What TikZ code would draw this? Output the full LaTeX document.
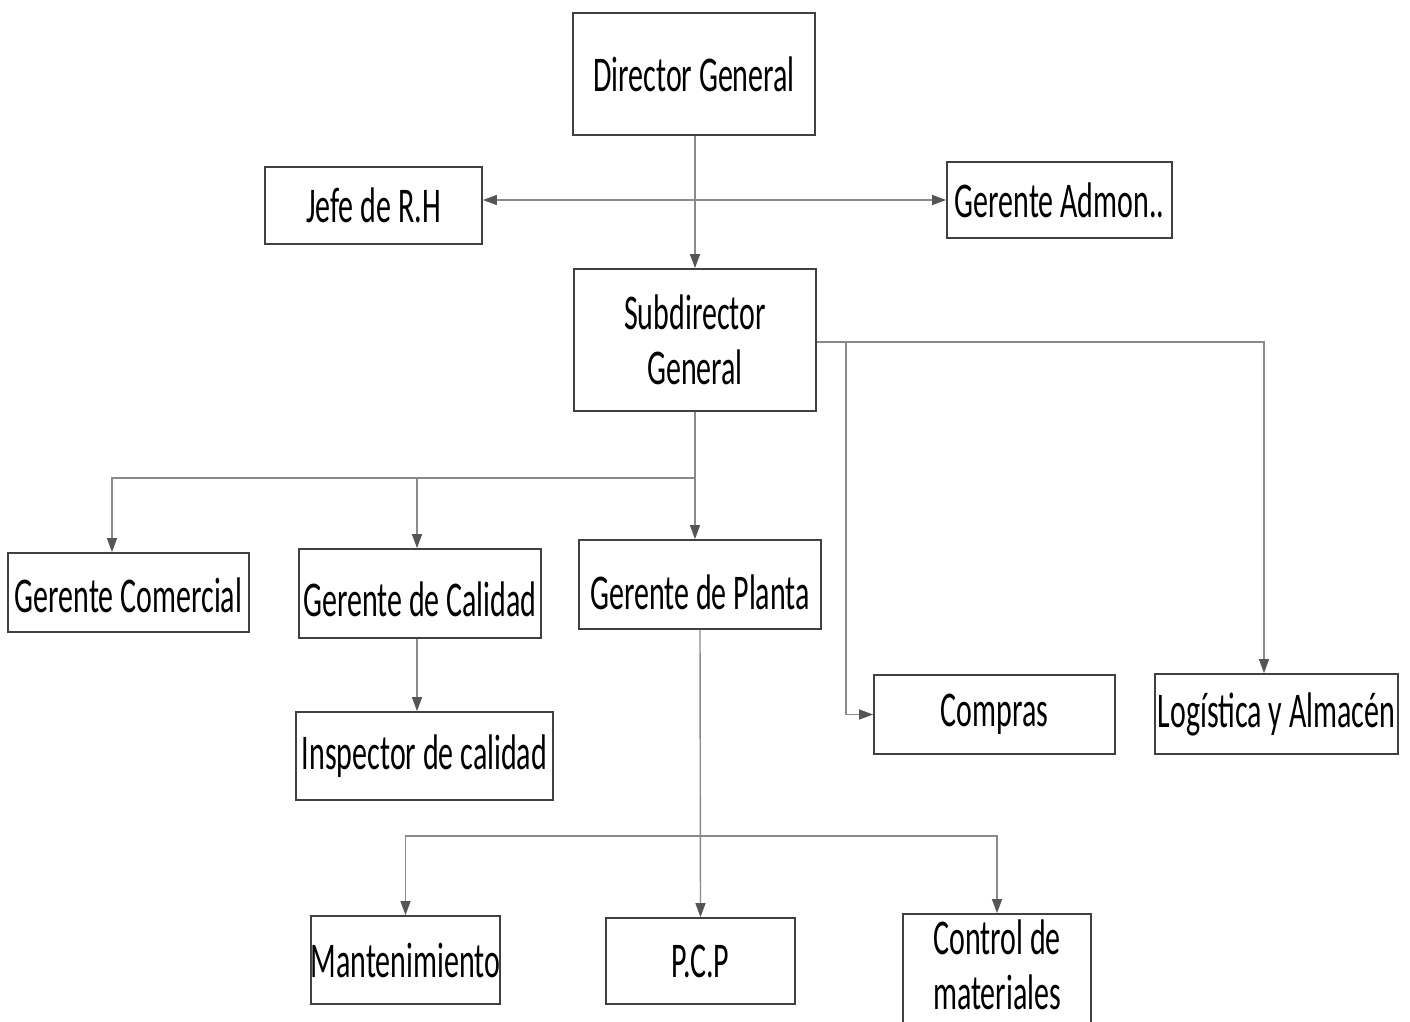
\documentclass[tikz,border=0pt]{standalone}
\usepackage{fontspec}
\setmainfont{Carlito}[FakeStretch=0.6]
\usepackage{tikz}
\usetikzlibrary{arrows.meta,positioning,calc}
\definecolor{boxgray}{HTML}{404040}
\definecolor{linkgray}{HTML}{8A8A8A}
\definecolor{tipgray}{HTML}{555555}
\tikzset{
	org chart/.style={
		x=1pt, y=-1pt,
		box/.style={draw=boxgray, line width=1.8pt, fill=white,
			inner sep=2pt, align=center,
			font=\fontsize{50}{55}\selectfont},
		link/.style={draw=linkgray, line width=1.4pt,
			-{Triangle[length=14pt,width=10pt,color=tipgray]}},
		both/.style={link,
			{Triangle[length=14pt,width=10pt,color=tipgray]}-{Triangle[length=14pt,width=10pt,color=tipgray]}}
		},
	bw/.style={minimum width=#1},
	bh/.style={minimum height=#1},
	% push a one-line text down inside its box
	sink/.style={text height=#1}
}

\begin{document}
\begin{tikzpicture}[org chart]
	\useasboundingbox (0,0) rectangle (1410,1021);
	\clip (0,0) rectangle (1410,1021);
	% boxes
	\node[box, bw=242, bh=122] (dg) at (694,74) {Director General};
	\node[box, bw=217, bh=77] (rh) at (373.5,205.5) {Jefe de R.H};
	\node[box, bw=225, bh=76] (adm) at (1059.5,200) {Gerente Admon..};
	\node[box, bw=242, bh=142] (sd) at (695,340) {Subdirector\\General};
	\node[box, bw=241, bh=79, sink=40pt] (com) at (128.5,592.5) {Gerente Comercial};
	\node[box, bw=242, bh=89, sink=46pt] (cal) at (420,593.5) {Gerente de Calidad};
	\node[box, bw=242, bh=89, sink=50pt] (pta) at (700,584.5) {Gerente de Planta};
	\node[box, bw=257, bh=88] (insp) at (424.5,756) {Inspector de calidad};
	\node[box, bw=241, bh=79] (cmp) at (994.5,714.5) {Compras};
	\node[box, bw=243, bh=80] (log) at (1276.5,714) {Logística y Almacén};
	\node[box, bw=189, bh=88, inner sep=0pt] (mant) at (405.5,960) {Mantenimiento};
	\node[box, bw=189, bh=86] (pcp) at (700.5,961) {P.C.P};
	\node[box, bw=188, bh=118, text depth=16pt] (ctl) at (997,973) {Control de\\materiales};
	% bus points
	\coordinate (busL) at (695,478);
	\coordinate (busR) at (846,342);
	\coordinate (busP) at (702,836);
	% links
	\draw[link] (dg.south -| sd.north) -- (sd.north);
	\draw[both] (adm.west -| rh.east) -- (adm.west);
	\draw[link] (sd.south) -- (sd.south |- pta.north);
	\draw[link] (busL) -| (com.north -| 112,0);
	\draw[link] (busL -| 417,0) -- (cal.north -| 417,0);
	\draw[link] (sd.east |- busR) -| (log.north -| 1264,0);
	\draw[link] (busR) |- (cmp.west);
	\draw[link] (cal.south -| 417,0) -- (insp.north -| 417,0);
	\draw[link] (pta.south) -- (pcp.north);
	\draw[link] (busP) -| (mant.north);
	\draw[link] (busP) -| (ctl.north);
\end{tikzpicture}
\end{document}
